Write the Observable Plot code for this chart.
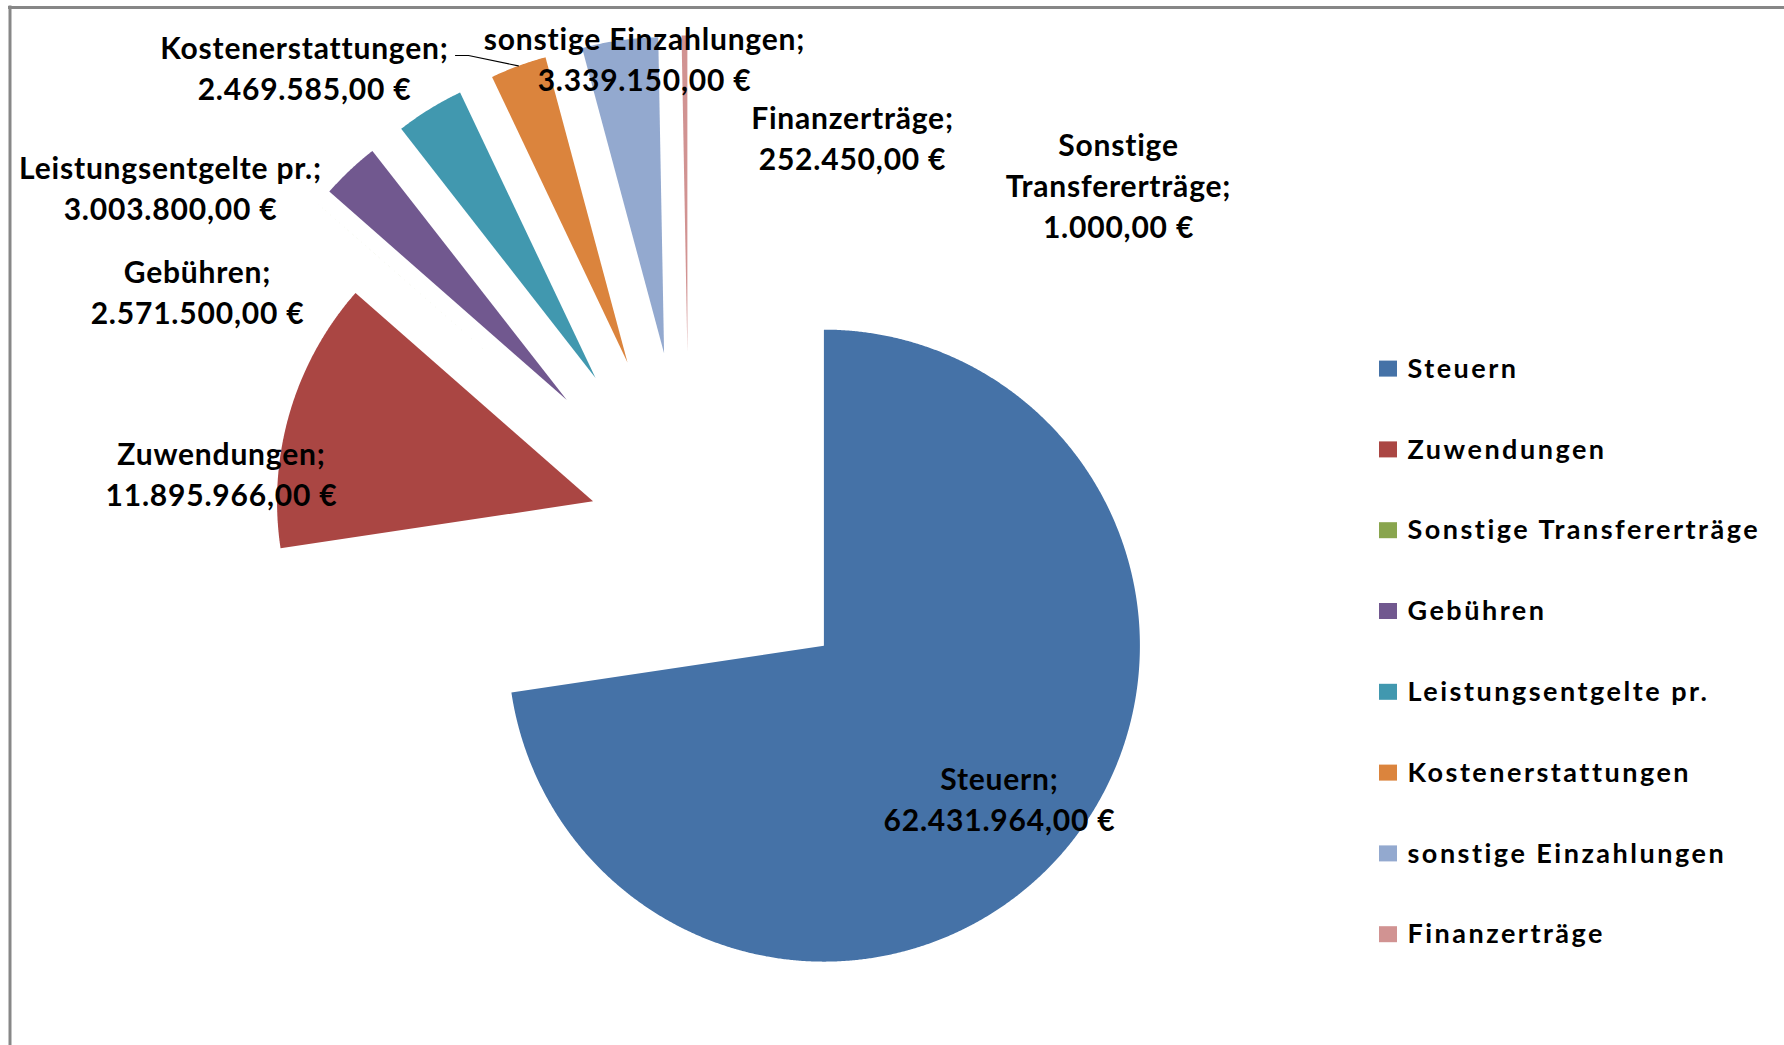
<!DOCTYPE html>
<html>
<head>
<meta charset="utf-8">
<script src="https://cdn.jsdelivr.net/npm/d3@7"></script>
<script src="https://cdn.jsdelivr.net/npm/@observablehq/plot@0.6"></script>
<style>
  body { margin: 0; background: #fff; }
  #chart svg { display: block; }
</style>
</head>
<body>
<div id="chart"></div>
<script>
// ---- data ----
const categories = ["Steuern", "Zuwendungen", "Sonstige Transfererträge", "Gebühren",
  "Leistungsentgelte pr.", "Kostenerstattungen", "sonstige Einzahlungen", "Finanzerträge"];
const values = [62431964, 11895966, 1000, 2571500, 3003800, 2469585, 3339150, 252450];
const labelNames = ["Steuern;", "Zuwendungen;", "Sonstige\nTransfererträge;", "Gebühren;",
  "Leistungsentgelte pr.;", "Kostenerstattungen;", "sonstige Einzahlungen;", "Finanzerträge;"];
const colors = ["#4572A7", "#AA4643", "#89A54E", "#71588F", "#4198AF", "#DB843D", "#93A9CF", "#D19392"];

// ---- layout (pixels) ----
const W = 1784, H = 1045;
const cx = 688.5, cy = 529, R = 316;
const explode = [178, 100, 178, 178, 178, 178, 178, 178];
const labelAt = [[999, 797], [221, 472], [1118, 183], [197, 290], [170, 186], [304, 66], [644, 57], [852, 136]];
const leaderStart = [[455, 55], [468, 55]];
const legendX = 1379, legendY0 = 368.6, legendStep = 80.8;

const loc = d3.formatLocale({decimal: ",", thousands: ".", grouping: [3], currency: ["", " €"]});
const fmt = v => loc.format(",.2f")(v) + " €";

const total = d3.sum(values);
const rad = d => d * Math.PI / 180;
let acc = 0;
const wedges = [], slices = [];
categories.forEach((c, i) => {
  const a0 = acc / total * 360, a1 = (acc + values[i]) / total * 360;
  acc += values[i];
  const am = rad((a0 + a1) / 2);
  const ax = cx + explode[i] * Math.sin(am), ay = cy - explode[i] * Math.cos(am);
  slices.push({cat: c, a0, a1, ax, ay, am});
  wedges.push({cat: c, x: ax, y: ay});
  const n = Math.max(2, Math.ceil((a1 - a0) / 0.25));
  for (let k = 0; k <= n; k++) {
    const a = rad(a0 + (a1 - a0) * k / n);
    wedges.push({cat: c, x: ax + R * Math.sin(a), y: ay - R * Math.cos(a)});
  }
  wedges.push({cat: c, x: ax, y: ay});
});

const labels = categories.map((c, i) => ({
  cat: c, x: labelAt[i][0], y: labelAt[i][1], text: labelNames[i] + "\n" + fmt(values[i])
}));

// leader line for Kostenerstattungen: label end -> arc at mid-angle
const ks = slices[5];
const leader = [
  {x: leaderStart[0][0], y: leaderStart[0][1]},
  {x: leaderStart[1][0], y: leaderStart[1][1]},
  {x: ks.ax + R * Math.sin(ks.am), y: ks.ay - R * Math.cos(ks.am)}
];

const legend = categories.map((c, i) => ({cat: c, yc: legendY0 + i * legendStep}));

const chart = Plot.plot({
  width: W, height: H,
  margin: 0,
  x: {domain: [0, W], range: [0, W], axis: null},
  y: {domain: [0, H], range: [0, H], axis: null},
  color: {domain: categories, range: colors},
  style: {fontFamily: "Lato, 'Noto Sans', sans-serif", background: "#fff"},
  marks: [
    Plot.ruleY([7], {x1: 8, x2: W, stroke: "#878787", strokeWidth: 3}),
    Plot.ruleX([9.5], {y1: 5.5, y2: H, stroke: "#878787", strokeWidth: 3}),
    Plot.line(wedges, {x: "x", y: "y", z: "cat", fill: "cat", stroke: "none", curve: "linear"}),
    Plot.line(leader, {x: "x", y: "y", stroke: "#000", strokeWidth: 1.2}),
    Plot.text(labels, {x: "x", y: "y", text: "text", fontSize: 30, fontWeight: "bold",
      fill: "#000", lineHeight: 1.37, lineAnchor: "middle", textAnchor: "middle"}),
    Plot.rect(legend, {x1: legendX, x2: legendX + 18, y1: d => d.yc - 8, y2: d => d.yc + 8, fill: "cat"}),
    Plot.text(legend, {x: legendX + 28, y: "yc", text: "cat", fontSize: 27, fontWeight: "bold",
      fill: "#000", textAnchor: "start", lineAnchor: "middle"})
  ]
});
// letter spacing on the two text marks (Plot has no letterSpacing option)
d3.select(chart).selectAll('g[aria-label="text"]').each(function(_, i) {
  d3.select(this).style("letter-spacing", i === 0 ? "0.8px" : "2.5px");
});
document.getElementById("chart").appendChild(chart);
</script>
</body>
</html>
